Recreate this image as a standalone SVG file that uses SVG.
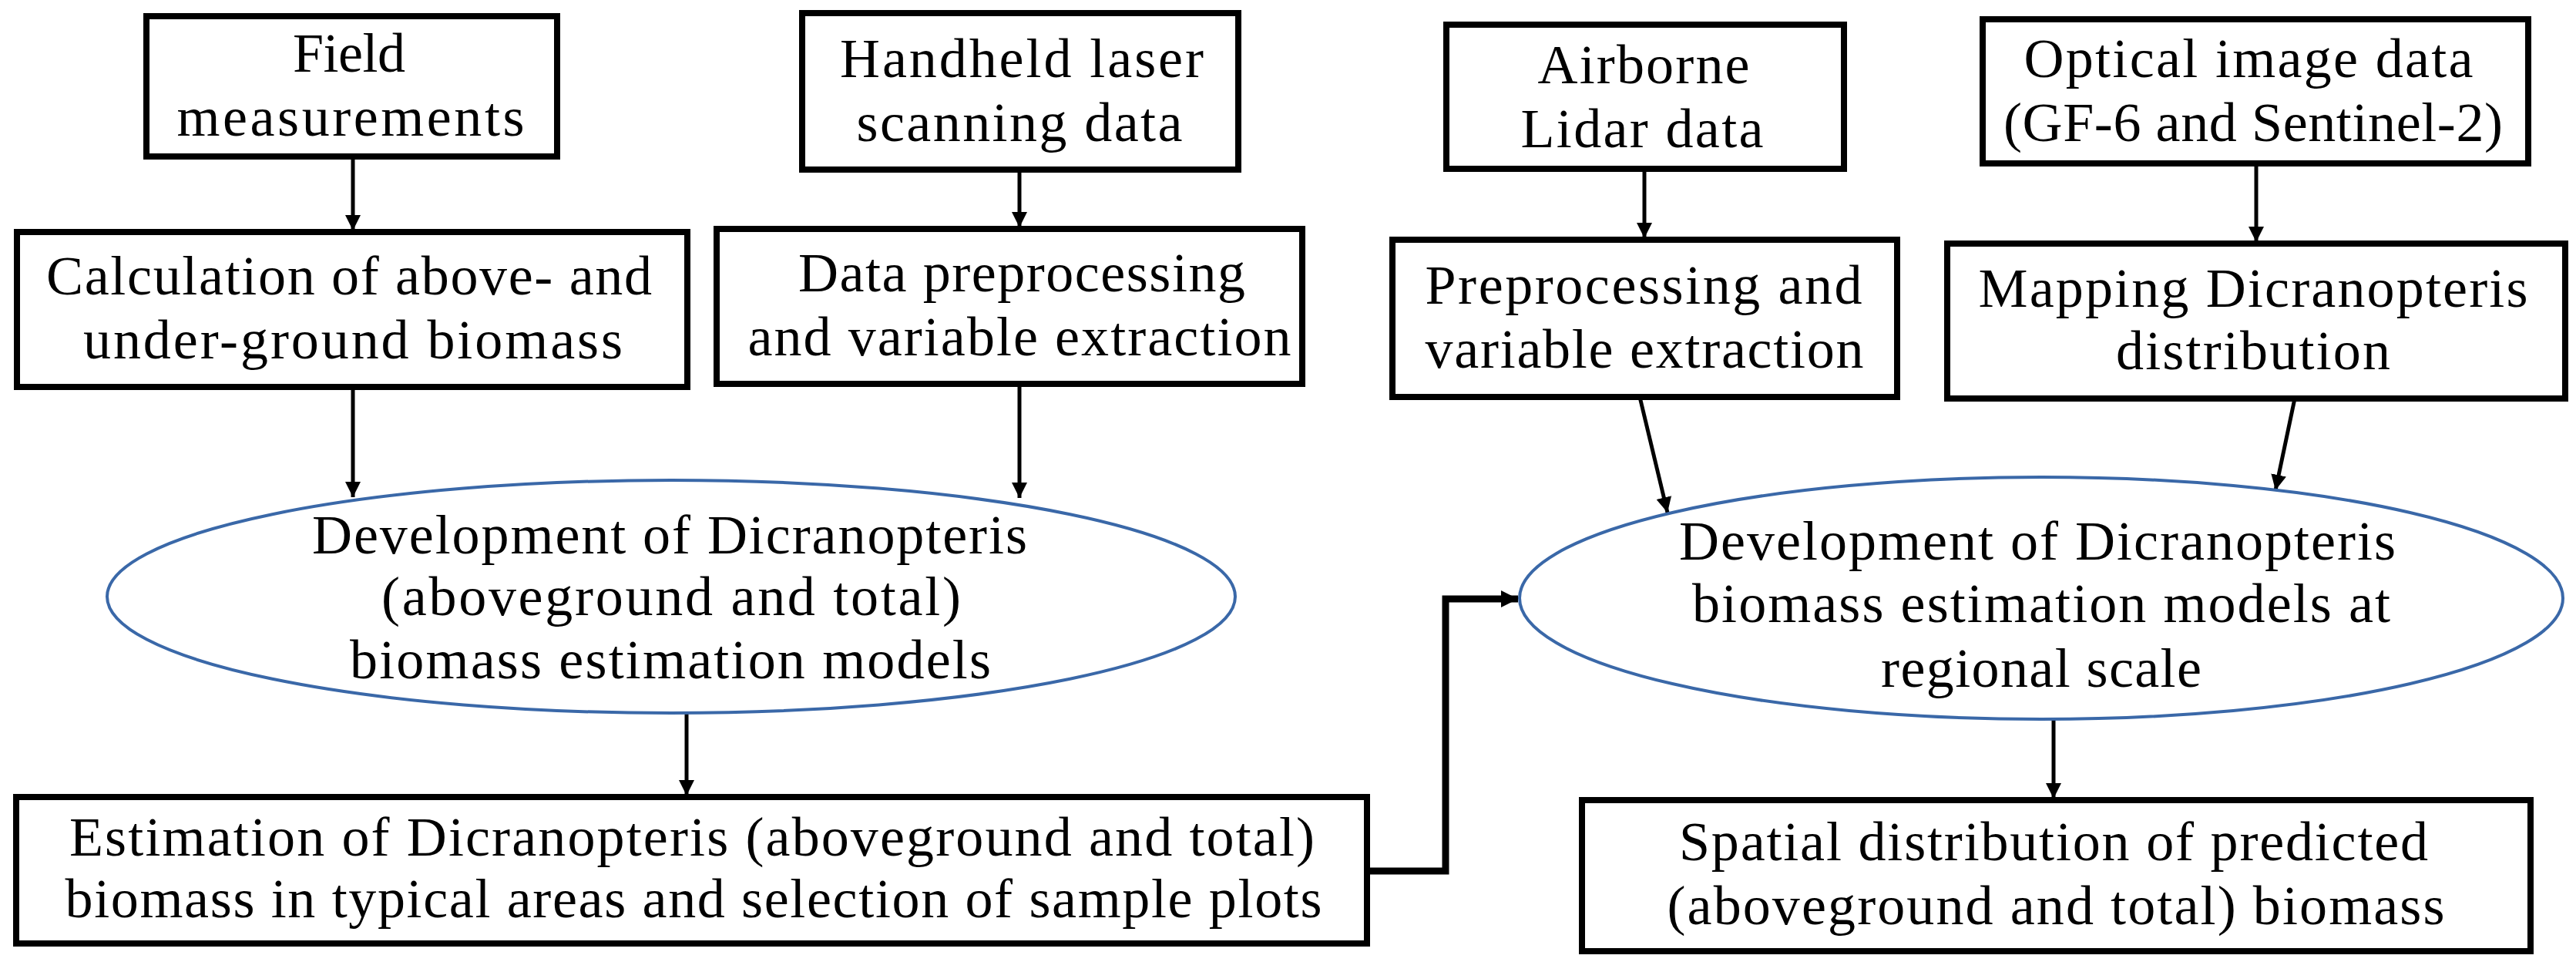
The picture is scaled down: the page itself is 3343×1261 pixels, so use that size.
<svg xmlns="http://www.w3.org/2000/svg" width="3343" height="1261" viewBox="0 0 3343 1261">
<defs>
<style>
.box{fill:#fff;stroke:#000;stroke-width:8}
.ell{fill:#fff;stroke:#3a68a8;stroke-width:4}
text{font-family:"Liberation Serif",serif;font-size:72px;fill:#000;text-anchor:middle}
.c{fill:none;stroke:#000;stroke-width:5}
.t{fill:none;stroke:#000;stroke-width:9}
</style>
<marker id="a" viewBox="0 0 10 10" refX="10" refY="5" markerWidth="4" markerHeight="5" markerUnits="strokeWidth" orient="auto"><path d="M0,0 L10,5 L0,10 z" fill="#000"/></marker>
<marker id="b" viewBox="0 0 10 10" refX="10" refY="5" markerWidth="2.5" markerHeight="3" markerUnits="strokeWidth" orient="auto"><path d="M0,0 L10,5 L0,10 z" fill="#000"/></marker>
</defs>
<rect width="3343" height="1261" fill="#fff"/>
<g id="connectors">
<path class="c" d="M458,203 V299" marker-end="url(#a)"/>
<path class="c" d="M1323,220 V295" marker-end="url(#a)"/>
<path class="c" d="M458,502 V645" marker-end="url(#a)"/>
<path class="c" d="M1323,498 V646" marker-end="url(#a)"/>
<path class="c" d="M2134,219 V309" marker-end="url(#a)"/>
<path class="c" d="M2928,212 V314" marker-end="url(#a)"/>
<path class="c" d="M2128,515 L2164,665" marker-end="url(#a)"/>
<path class="c" d="M2978,517 L2953,636" marker-end="url(#a)"/>
<path class="c" d="M891,925 V1032" marker-end="url(#a)"/>
<path class="c" d="M2665,934 V1036" marker-end="url(#a)"/>
<path class="t" d="M1774,1130 H1876 V777 H1970" marker-end="url(#b)"/>
</g>
<g id="field"><rect class="box" x="190" y="21" width="533" height="182"/>
<text x="453" y="93" textLength="146">Field</text><text x="455" y="176" textLength="451">measurements</text></g>
<g id="handheld"><rect class="box" x="1041" y="17" width="566" height="203"/>
<text x="1326" y="100" textLength="472">Handheld laser</text><text x="1323" y="183" textLength="423">scanning data</text></g>
<g id="airborne"><rect class="box" x="1877" y="32" width="516" height="187"/>
<text x="2133" y="108" textLength="275">Airborne</text><text x="2131" y="191" textLength="315">Lidar data</text></g>
<g id="optical"><rect class="box" x="2573" y="25" width="708" height="187"/>
<text x="2918" y="100" textLength="583">Optical image data</text><text x="2924" y="183" textLength="648">(GF-6 and Sentinel-2)</text></g>
<g id="calc"><rect class="box" x="22" y="301" width="870" height="201"/>
<text x="453" y="382" textLength="786">Calculation of above- and</text><text x="458" y="465" textLength="700">under-ground biomass</text></g>
<g id="datapre"><rect class="box" x="930" y="297" width="760" height="201"/>
<text x="1326" y="378" textLength="580">Data preprocessing</text><text x="1323" y="461" textLength="705">and variable extraction</text></g>
<g id="prepro"><rect class="box" x="1807" y="311" width="655" height="204"/>
<text x="2133" y="394" textLength="567">Preprocessing and</text><text x="2134" y="477" textLength="569">variable extraction</text></g>
<g id="mapping"><rect class="box" x="2527" y="316" width="802" height="201"/>
<text x="2924" y="398" textLength="713">Mapping Dicranopteris</text><text x="2924" y="479" textLength="356">distribution</text></g>
<g id="dev1"><ellipse class="ell" cx="871" cy="774" rx="732" ry="151"/>
<text x="869" y="718" textLength="928">Development of Dicranopteris</text><text x="871" y="798" textLength="752">(aboveground and total)</text><text x="870" y="880" textLength="832">biomass estimation models</text></g>
<g id="dev2"><ellipse class="ell" cx="2649" cy="776" rx="677" ry="157"/>
<text x="2644" y="726" textLength="930">Development of Dicranopteris</text><text x="2649" y="807" textLength="906">biomass estimation models at</text><text x="2649" y="891" textLength="416">regional scale</text></g>
<g id="estimation"><rect class="box" x="21" y="1034" width="1753" height="190"/>
<text x="898" y="1110" textLength="1616">Estimation of Dicranopteris (aboveground and total)</text><text x="900" y="1190" textLength="1631">biomass in typical areas and selection of sample plots</text></g>
<g id="spatial"><rect class="box" x="2053" y="1038" width="1231" height="196"/>
<text x="2665" y="1116" textLength="972">Spatial distribution of predicted</text><text x="2668" y="1199" textLength="1009">(aboveground and total) biomass</text></g>
</svg>
